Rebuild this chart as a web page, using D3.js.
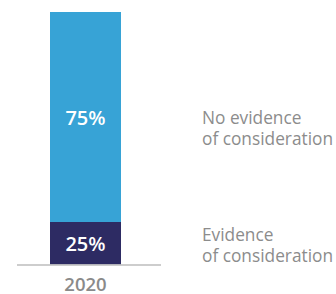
<!DOCTYPE html>
<html><head><meta charset="utf-8">
<script src="https://cdn.jsdelivr.net/npm/d3@7"></script>
<style>body{margin:0;background:#fff;overflow:hidden;}svg{display:block;font-family:"Open Sans",sans-serif;}</style>
</head><body><div id="chart"></div>
<script>
const categories = ["2020"];
const seriesNames = ["Evidence of consideration", "No evidence of consideration"];
const evidence = [25];
const noEvidence = [75];
const valueLabels = [["25%"], ["75%"]];
const legendLines = [["Evidence", "of consideration"], ["No evidence", "of consideration"]];
const colors = ["#2d2b63", "#37a3d6"];

const W = 336, H = 294;
const svg = d3.select("#chart").append("svg").attr("width", W).attr("height", H);

const x = d3.scaleBand().domain(categories).range([50, 121]).padding(0);
// non-proportional (as in the original) piecewise scale
const y = d3.scaleLinear().domain([0, 25, 100]).range([264.5, 222, 12]);

const data = categories.map((c, i) => ({cat: c, evidence: evidence[i], noEvidence: noEvidence[i]}));
const stack = d3.stack().keys(["evidence", "noEvidence"])(data);

const g = svg.append("g");
stack.forEach((layer, li) => {
  layer.forEach(d => {
    g.append("rect")
      .attr("x", x(d.data.cat))
      .attr("width", x.bandwidth())
      .attr("y", y(d[1]))
      .attr("height", y(d[0]) - y(d[1]))
      .attr("fill", colors[li]);
    const mid = (y(d[0]) + y(d[1])) / 2;
    g.append("text")
      .attr("x", x(d.data.cat) + x.bandwidth() / 2)
      .attr("y", mid + 7.5)
      .attr("text-anchor", "middle")
      .attr("fill", "#fff")
      .attr("font-size", 20)
      .attr("font-weight", 600)
      .text(valueLabels[li][0]);
  });
});

// baseline
svg.append("line").attr("x1", 17).attr("x2", 161).attr("y1", 265).attr("y2", 265)
  .attr("stroke", "#bdbdbd").attr("stroke-width", 1.5);

// category label
svg.append("text").attr("x", x(categories[0]) + x.bandwidth() / 2).attr("y", 290.5)
  .attr("text-anchor", "middle").attr("fill", "#8a8a8a").attr("font-size", 18.5)
  .attr("font-weight", 600).text(categories[0]);

// legend labels
const legendOffsets = [-2, 7];
stack.forEach((layer, li) => {
  const d = layer[0];
  const mid = (y(d[0]) + y(d[1])) / 2;
  const t = svg.append("text").attr("x", 202).attr("y", mid + legendOffsets[li])
    .attr("fill", "#8c8c8c").attr("font-size", 17.3);
  legendLines[li].forEach((s, k) => {
    t.append("tspan").attr("x", 202).attr("dy", k === 0 ? 0 : 21).text(s);
  });
});
</script></body></html>
